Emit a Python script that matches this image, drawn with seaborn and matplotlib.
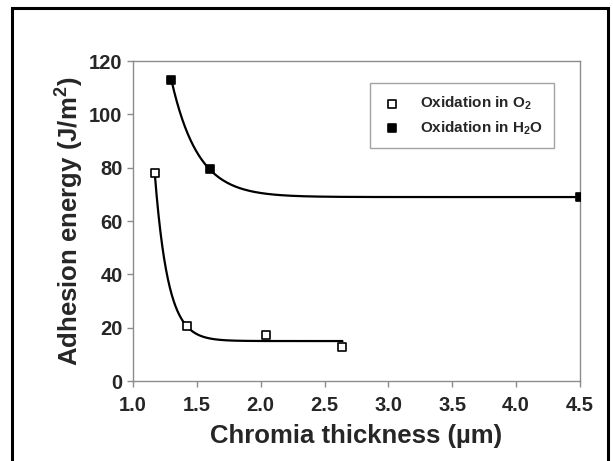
import numpy as np
import pandas as pd
import seaborn as sns
import matplotlib.pyplot as plt
from matplotlib.patches import Rectangle

# values
o2Thickness = [1.17, 1.42, 2.04, 2.64]
o2Energy = [78.0, 20.6, 17.4, 12.6]
h2oThickness = [1.30, 1.60, 4.50]
h2oEnergy = [113.0, 79.4, 69.0]
seriesLabels = [r'Oxidation in O$_2$', r'Oxidation in H$_2$O']
xTicks = [1.0, 1.5, 2.0, 2.5, 3.0, 3.5, 4.0, 4.5]
yTicks = [0, 20, 40, 60, 80, 100, 120]


def fitDecay(xs, ys):
    """y = y0 + A*exp(-(x - x[0])/t): grid over t, linear least squares for y0, A."""
    xs, ys = np.asarray(xs), np.asarray(ys)
    best = None
    for t in np.linspace(0.02, 1.5, 3000):
        basis = np.column_stack([np.ones_like(xs), np.exp(-(xs - xs[0]) / t)])
        coef, *_ = np.linalg.lstsq(basis, ys, rcond=None)
        err = np.sum((basis @ coef - ys) ** 2)
        if best is None or err < best[0]:
            best = (err, t, coef)
    _, t, coef = best
    xFit = np.linspace(xs[0], xs[-1], 300)
    return xFit, coef[0] + coef[1] * np.exp(-(xFit - xs[0]) / t)


sns.set_style('white')
plt.rcParams['font.family'] = ['Liberation Sans', 'DejaVu Sans']
plt.rcParams['mathtext.fontset'] = 'custom'
plt.rcParams['mathtext.rm'] = 'Liberation Sans:bold'
plt.rcParams['mathtext.bf'] = 'Liberation Sans:bold'

fig = plt.figure(figsize=(6.13, 4.61), dpi=100)
ax = fig.add_axes([0.217, 0.1735, 0.7292, 0.694])

for xs, ys in [(o2Thickness, o2Energy), (h2oThickness, h2oEnergy)]:
    xFit, yFit = fitDecay(xs, ys)
    sns.lineplot(x=xFit, y=yFit, ax=ax, color='black', linewidth=1.6, legend=False)

sns.scatterplot(x=o2Thickness, y=o2Energy, ax=ax, marker='s', s=36,
                facecolor='white', edgecolor='black', linewidth=1.2,
                label=seriesLabels[0], zorder=5)
sns.scatterplot(x=h2oThickness, y=h2oEnergy, ax=ax, marker='s', s=36,
                color='black', edgecolor='black', linewidth=1.2,
                label=seriesLabels[1], zorder=5)

ax.set_xlim(1.0, 4.5)
ax.set_ylim(0, 120)
ax.set_xticks(xTicks)
ax.set_yticks(yTicks)
ax.set_xticklabels([f'{v:.1f}' for v in xTicks], fontsize=14.5, fontweight='bold')
ax.set_yticklabels([str(v) for v in yTicks], fontsize=14.5, fontweight='bold')
ax.set_xlabel('Chromia thickness (µm)', fontsize=18.5, fontweight='bold', labelpad=6.5)
ax.set_ylabel(r'Adhesion energy (J/m$^\mathbf{2}$)', fontsize=18.5, fontweight='bold', labelpad=3)

for side in ['left', 'bottom', 'top', 'right']:
    ax.spines[side].set_color('#8c8c8c')
    ax.spines[side].set_linewidth(1.0)
ax.tick_params(axis='x', direction='out', length=4, width=1.0, color='#8c8c8c', pad=7, bottom=True)
ax.tick_params(axis='y', direction='out', length=4, width=1.0, color='#8c8c8c', pad=3.5, left=True)

leg = ax.legend(loc='upper right', bbox_to_anchor=(0.942, 0.931), borderaxespad=0,
                frameon=True, fancybox=False, prop={'size': 11, 'weight': 'bold'},
                handlelength=1.4, handletextpad=1.1, borderpad=0.75,
                labelspacing=0.45, markerscale=0.9)
leg.get_frame().set_edgecolor('#8c8c8c')
leg.get_frame().set_linewidth(1.0)

fig.patches.append(Rectangle((0.0196, -0.02), 0.9724, 1.003, transform=fig.transFigure,
                             fill=False, edgecolor='black', linewidth=2.2, clip_on=False))

fig.savefig('out.png', dpi=100)
